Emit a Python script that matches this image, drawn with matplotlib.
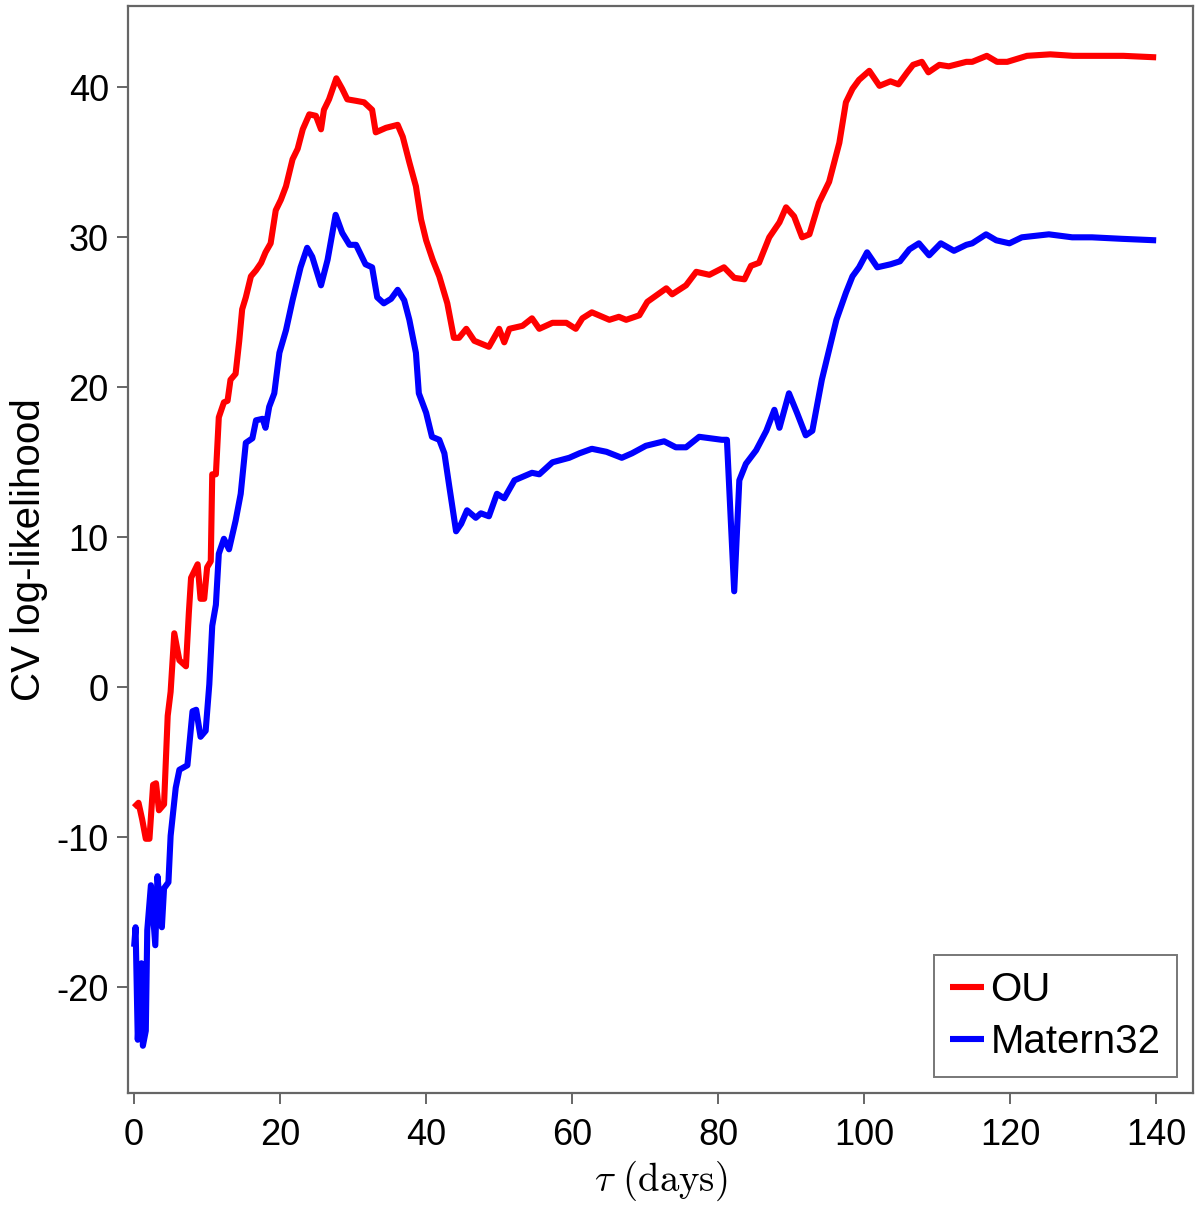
import numpy as np
import matplotlib
matplotlib.use("Agg")
import matplotlib.pyplot as plt

# ---- data ----
ou_x = [0.0, 0.6, 1.1, 1.6, 2.1, 2.6, 3.0, 3.4, 4.1, 4.6, 5.0, 5.5, 6.2, 7.1, 7.5, 7.8,
        8.7, 9.1, 9.6, 10.0, 10.5, 10.7, 11.2, 11.6, 12.3, 12.8, 13.2, 13.9, 14.4, 14.8,
        15.3, 16.0, 16.7, 17.4, 18.0, 18.7, 19.4, 20.1, 20.8, 21.7, 22.4, 23.1, 24.0,
        24.9, 25.6, 26.0, 26.7, 27.7, 28.5, 29.2, 30.4, 31.5, 32.6, 33.1, 34.5, 36.1,
        36.8, 37.7, 38.6, 39.3, 40.0, 40.9, 41.8, 42.9, 43.8, 44.5, 45.5, 46.6, 48.6,
        50.0, 50.7, 51.4, 53.2, 54.5, 55.5, 57.3, 59.2, 60.5, 61.4, 62.7, 65.1, 66.4,
        67.4, 69.2, 70.3, 72.9, 73.7, 75.6, 77.0, 78.8, 80.8, 82.2, 83.6, 84.5, 85.6,
        87.0, 88.4, 89.3, 90.4, 91.5, 92.5, 93.8, 95.2, 96.6, 97.5, 98.4, 99.3, 100.7,
        102.1, 103.6, 104.7, 105.9, 106.7, 107.9, 108.8, 110.3, 111.6, 114.0, 114.8,
        116.8, 118.2, 119.6, 122.3, 125.5, 128.6, 131.4, 135.5, 140.0]
ou_y = [-8.0, -7.7, -8.8, -10.1, -10.1, -6.5, -6.4, -8.2, -7.8, -1.9, -0.3, 3.6, 1.8, 1.4,
        5.0, 7.3, 8.2, 5.9, 5.9, 8.0, 8.4, 14.2, 14.2, 18.0, 19.0, 19.1, 20.5, 20.9, 23.1,
        25.2, 26.0, 27.4, 27.8, 28.3, 29.0, 29.6, 31.8, 32.5, 33.4, 35.2, 35.9, 37.2,
        38.2, 38.1, 37.2, 38.5, 39.2, 40.6, 39.9, 39.2, 39.1, 39.0, 38.5, 37.0, 37.3,
        37.5, 36.7, 35.0, 33.4, 31.2, 29.8, 28.5, 27.4, 25.6, 23.3, 23.3, 23.9, 23.1,
        22.7, 23.9, 23.0, 23.9, 24.1, 24.6, 23.9, 24.3, 24.3, 23.9, 24.6, 25.0, 24.5,
        24.7, 24.5, 24.8, 25.7, 26.6, 26.2, 26.8, 27.7, 27.5, 28.0, 27.3, 27.2, 28.1,
        28.3, 30.0, 31.0, 32.0, 31.4, 30.0, 30.2, 32.3, 33.7, 36.3, 39.0, 39.9, 40.5,
        41.1, 40.1, 40.4, 40.2, 41.0, 41.5, 41.7, 41.0, 41.5, 41.4, 41.7, 41.7, 42.1,
        41.7, 41.7, 42.1, 42.2, 42.1, 42.1, 42.1, 42.0]

m32_x = [0.0, 0.2, 0.5, 1.0, 1.2, 1.6, 1.8, 2.3, 2.9, 3.2, 3.8, 4.1, 4.7, 5.0, 5.7, 6.2,
         7.3, 8.0, 8.5, 9.1, 9.8, 10.3, 10.7, 11.2, 11.6, 12.3, 13.0, 13.9, 14.6, 15.3,
         16.2, 16.7, 17.6, 18.0, 18.5, 19.2, 19.9, 20.8, 21.7, 22.8, 23.7, 24.4, 25.6,
         26.5, 27.6, 28.5, 29.5, 30.4, 31.7, 32.6, 33.3, 34.2, 35.2, 36.1, 37.0, 37.7,
         38.6, 39.0, 40.0, 40.8, 41.8, 42.5, 43.2, 44.1, 44.8, 45.6, 46.8, 47.5, 48.6,
         49.7, 50.7, 52.1, 54.5, 55.5, 57.3, 59.6, 61.0, 62.7, 64.7, 66.8, 68.2, 70.1,
         72.6, 74.2, 75.6, 77.4, 80.5, 81.2, 82.2, 82.9, 83.8, 85.2, 86.6, 87.7, 88.4,
         89.7, 90.8, 92.0, 92.9, 94.2, 96.2, 97.5, 98.4, 99.3, 100.4, 101.8, 103.6,
         104.9, 106.2, 107.5, 108.9, 110.5, 112.3, 114.0, 114.8, 116.7, 118.1, 119.9,
         121.6, 125.3, 128.5, 131.2, 135.3, 140.0]
m32_y = [-17.3, -16.0, -23.5, -18.4, -23.9, -22.9, -16.2, -13.2, -17.2, -12.6, -16.0,
         -13.4, -13.0, -9.9, -6.7, -5.5, -5.2, -1.6, -1.5, -3.3, -2.9, 0.2, 4.1, 5.5, 8.9,
         9.9, 9.2, 11.1, 12.9, 16.3, 16.6, 17.8, 17.9, 17.3, 18.7, 19.6, 22.3, 23.8, 25.8,
         28.0, 29.3, 28.7, 26.8, 28.5, 31.5, 30.3, 29.5, 29.5, 28.2, 28.0, 26.0, 25.6,
         25.9, 26.5, 25.8, 24.5, 22.3, 19.6, 18.3, 16.7, 16.5, 15.6, 13.3, 10.4, 10.9,
         11.8, 11.3, 11.6, 11.4, 12.9, 12.6, 13.8, 14.3, 14.2, 15.0, 15.3, 15.6, 15.9,
         15.7, 15.3, 15.6, 16.1, 16.4, 16.0, 16.0, 16.7, 16.5, 16.5, 6.4, 13.8, 14.9,
         15.8, 17.1, 18.5, 17.3, 19.6, 18.3, 16.8, 17.1, 20.5, 24.5, 26.3, 27.4, 28.0,
         29.0, 28.0, 28.2, 28.4, 29.2, 29.6, 28.8, 29.6, 29.1, 29.5, 29.6, 30.2, 29.8,
         29.6, 30.0, 30.2, 30.0, 30.0, 29.9, 29.8]

series_labels = ["OU", "Matern32"]
x_ticks = [0, 20, 40, 60, 80, 100, 120, 140]
y_ticks = [-20, -10, 0, 10, 20, 30, 40]

# ---- style ----
plt.rcParams['font.family'] = ['Liberation Sans', 'DejaVu Sans']
plt.rcParams['mathtext.fontset'] = 'cm'
plt.rcParams['axes.unicode_minus'] = False

fig = plt.figure(figsize=(12.0, 12.08), dpi=100)
ax = fig.add_axes([0.1069, 0.0952, 0.8870, 0.8998])

ax.plot(ou_x, ou_y, color='#ff0000', lw=4.4, label=series_labels[0],
        solid_joinstyle='round', solid_capstyle='butt')
ax.plot(m32_x, m32_y, color='#0000ff', lw=4.4, label=series_labels[1],
        solid_joinstyle='round', solid_capstyle='butt')

ax.set_xlim(-0.8, 145.0)
ax.set_ylim(-27.05, 45.42)
ax.set_xticks(x_ticks)
ax.set_yticks(y_ticks)
ax.set_xticklabels([str(v) for v in x_ticks])
ax.set_yticklabels([str(v) for v in y_ticks])

for s in ax.spines.values():
    s.set_color('#666666')
    s.set_linewidth(1.6)
ax.tick_params(direction='out', length=8, width=1.4, color='#666666',
               labelsize=26, labelcolor='black')
ax.tick_params(axis='x', pad=10)
ax.tick_params(axis='y', pad=6)

ax.set_ylabel('CV log-likelihood', fontsize=29, labelpad=6)
ax.set_xlabel(r'$\tau\ (\mathrm{days})$', fontsize=28, labelpad=4)

leg = ax.legend(loc='lower right', fontsize=29, frameon=True, fancybox=False,
                handlelength=0.85, handletextpad=0.15, borderaxespad=0.4,
                labelspacing=0.35, borderpad=0.4)
leg.get_frame().set_edgecolor('#555555')
leg.get_frame().set_linewidth(1.4)
for h in leg.get_lines():
    h.set_linewidth(4.4)

fig.savefig('out.png', dpi=100)
